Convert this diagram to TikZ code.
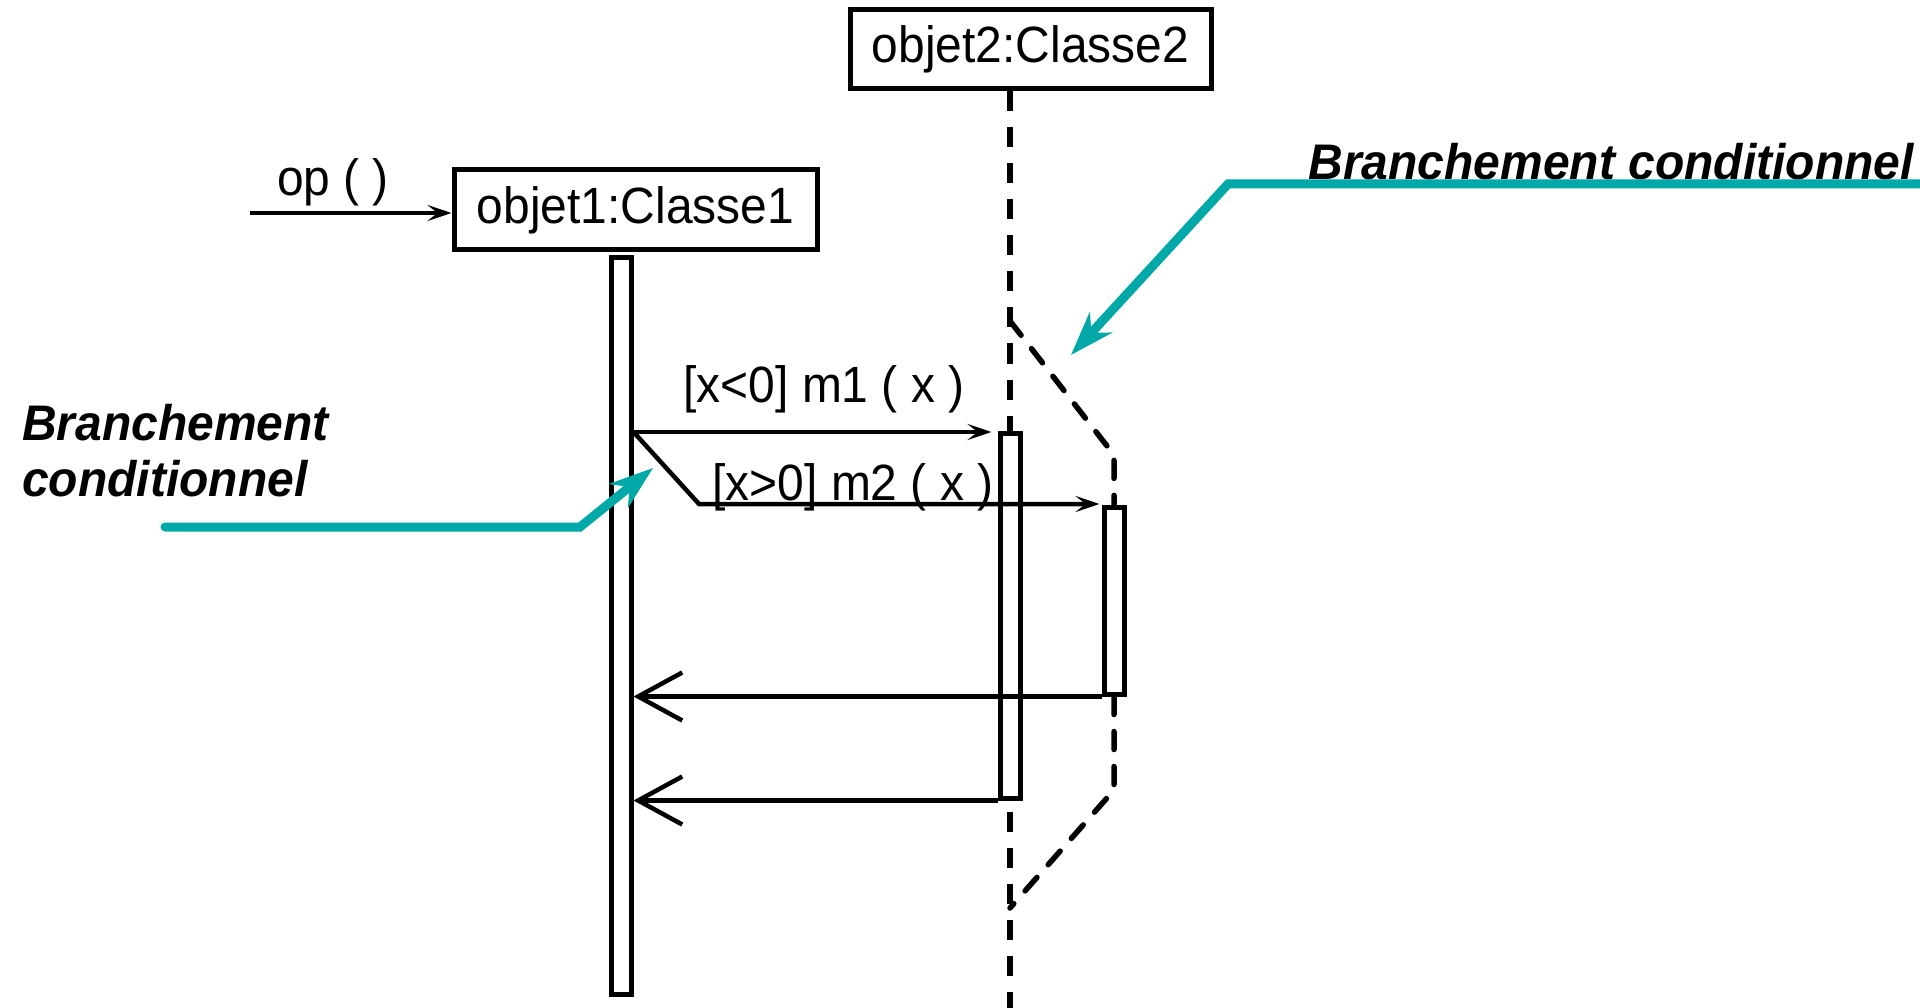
\documentclass[tikz,border=0pt]{standalone}
\usepackage{fontspec}
\setmainfont{Liberation Sans}
\newfontfamily\narrowsans[FakeStretch=0.94]{Liberation Sans}
\newfontfamily\notesans[FakeStretch=0.96]{Liberation Sans}
\usetikzlibrary{arrows.meta}
\definecolor{tealc}{RGB}{0,168,168}
\begin{document}
\begin{tikzpicture}[x=1pt,y=-1pt,
  objbox/.style={draw, line width=5pt, inner sep=0pt, font=\narrowsans\fontsize{51}{60}\selectfont},
  actbar/.style={draw, line width=5pt, minimum width=20pt, inner sep=0pt, fill=white},
  msg/.style={line width=4.5pt, -{Stealth[length=24pt,width=16pt,inset=10pt]}},
  ret/.style={line width=4.5pt, -{Straight Barb[length=44pt,width=48pt]}},
  life/.style={line width=5.5pt, dash pattern=on 20pt off 16pt},
  branchlife/.style={line width=5.5pt, dash pattern=on 18pt off 17pt, line cap=round},
  lbl/.style={font=\narrowsans\fontsize{51}{60}\selectfont, inner sep=0pt},
  note/.style={font=\notesans\fontsize{50}{56}\selectfont\bfseries\itshape, inner sep=0pt},
  pointer/.style={draw=tealc, line width=9pt, line join=miter, -{Stealth[length=44pt,width=30pt,inset=14pt]}}
]
\path[use as bounding box] (0,0) rectangle (1920,1008);

% objects
\node[objbox, minimum width=363pt, minimum height=80pt] (o1) at (635.5,210) {objet1:Classe1};
\node[objbox, minimum width=361pt, minimum height=79pt] (o2) at (1030.5,49.5) {objet2:Classe2};

% lifeline of objet2
\coordinate (bottom) at (0,1008);
\draw[life] (o2.south -| 1010,0) -- (1010,1008);

% branch dashed lifeline
\coordinate (b1) at (1010,321);
\coordinate (b2) at (1114,455);
\coordinate (b3) at (1114,790);
\coordinate (b4) at (1010,908);

% activation bars
\node[actbar, minimum height=736pt] (a1) at (621,626) {};
\node[actbar, minimum height=365pt] (a2) at (1010,615.5) {};
\node[actbar, minimum height=187pt] (a3) at (1114,600.5) {};

\draw[branchlife] (b1) -- (b2) -- (a3.north);
\draw[branchlife] (a3.south) -- (b3) -- (b4);

% op()
\coordinate (opstart) at (250,213);
\draw[msg] (opstart) -- (o1.west |- opstart);
\node[lbl, anchor=base] (oplbl) at (333,196) {op ( )};

% m1
\coordinate (m1y) at (0,432);
\draw[msg, shorten >=6pt] (a1.east |- m1y) -- (a2.west |- m1y);
\node[lbl, anchor=base] (m1lbl) at (824,402) {[x<0] m1 ( x )};

% m2
\coordinate (m2y) at (0,504);
\coordinate (bend) at (699,504);
\draw[msg, shorten >=2pt] (a1.east |- m1y) -- (bend) -- (a3.west |- m2y);
\node[lbl, anchor=base] (m2lbl) at (853,500) {[x>0] m2 ( x )};

% returns
\draw[ret] (a3.south west) -- (a1.east |- a3.south west);
\draw[ret] (a2.south west) -- (a1.east |- a2.south west);

% notes
\node[note, anchor=base east] (n2) at (1914,180) {Branchement conditionnel};
\node[note, anchor=north west, align=left] (n1) at (22,404) {Branchement\\conditionnel};

% pointers
\coordinate (p1s) at (165,527);
\coordinate (p1c) at (580,527);
\coordinate (p1t) at (653,468);
\draw[pointer, line cap=round] (p1s) -- (p1c) -- (p1t);
\coordinate (p2s) at (1920,184);
\coordinate (p2c) at (1228,184);
\coordinate (p2t) at (1071,355);
\draw[pointer] (p2s) -- (p2c) -- (p2t);
\end{tikzpicture}
\end{document}
